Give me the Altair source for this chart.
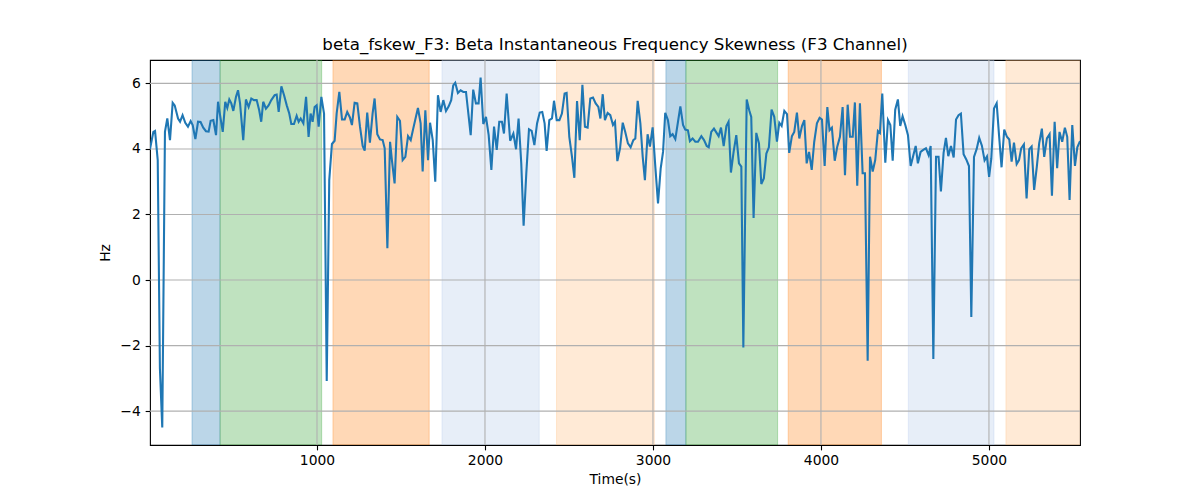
import altair as alt
import pandas as pd

# ---- data ----
times = [6, 26, 36, 52, 65, 79, 95, 109, 125, 141, 153, 173, 185, 200, 216, 232, 248, 260, 276, 292,
         307, 323, 339, 355, 367, 383, 399, 411, 423, 439, 454, 466, 478, 490, 502, 518, 530, 542, 561, 577,
         593, 609, 625, 641, 656, 668, 680, 696, 712, 728, 748, 760, 772, 788, 804, 820, 835, 847, 863, 879,
         891, 903, 919, 935, 950, 962, 974, 986, 998, 1010, 1026, 1042, 1058, 1073, 1089, 1105, 1117, 1133, 1149, 1165,
         1180, 1196, 1208, 1224, 1240, 1256, 1272, 1284, 1299, 1315, 1331, 1343, 1359, 1375, 1391, 1403, 1419, 1435, 1446, 1462,
         1478, 1494, 1510, 1526, 1542, 1558, 1573, 1589, 1601, 1617, 1629, 1645, 1661, 1673, 1689, 1704, 1720, 1736, 1752, 1768,
         1784, 1799, 1811, 1823, 1839, 1855, 1871, 1887, 1899, 1915, 1930, 1946, 1962, 1974, 1990, 2006, 2022, 2038, 2054, 2070,
         2085, 2101, 2113, 2129, 2150, 2169, 2185, 2200, 2216, 2230, 2246, 2262, 2278, 2294, 2310, 2326, 2341, 2355, 2367, 2383,
         2399, 2411, 2427, 2443, 2458, 2474, 2486, 2502, 2518, 2532, 2548, 2564, 2580, 2595, 2611, 2627, 2643, 2659, 2675, 2687,
         2701, 2714, 2730, 2746, 2762, 2774, 2788, 2804, 2820, 2835, 2851, 2867, 2883, 2895, 2909, 2925, 2939, 2952, 2968, 2982,
         2998, 3014, 3030, 3046, 3060, 3073, 3089, 3103, 3117, 3133, 3149, 3163, 3179, 3192, 3208, 3220, 3236, 3252, 3268, 3288,
         3304, 3320, 3332, 3347, 3363, 3375, 3391, 3405, 3421, 3437, 3450, 3464, 3480, 3496, 3512, 3526, 3538, 3558, 3573, 3585,
         3599, 3615, 3631, 3645, 3660, 3675, 3690, 3706, 3722, 3738, 3752, 3766, 3782, 3798, 3811, 3827, 3841, 3857, 3871, 3887,
         3901, 3915, 3929, 3945, 3960, 3976, 3992, 4006, 4022, 4038, 4051, 4065, 4082, 4097, 4113, 4129, 4143, 4159, 4173, 4189,
         4202, 4216, 4232, 4248, 4262, 4278, 4292, 4308, 4323, 4339, 4351, 4365, 4383, 4399, 4413, 4427, 4442, 4458, 4472, 4486,
         4502, 4518, 4534, 4550, 4564, 4577, 4593, 4609, 4625, 4641, 4653, 4669, 4685, 4700, 4714, 4730, 4744, 4758, 4774, 4790,
         4804, 4819, 4833, 4849, 4865, 4881, 4895, 4911, 4927, 4942, 4958, 4974, 4988, 5001, 5014, 5030, 5046, 5060, 5075, 5091,
         5107, 5121, 5135, 5149, 5165, 5179, 5192, 5208, 5224, 5240, 5254, 5269, 5285, 5299, 5315, 5329, 5345, 5361, 5375, 5391,
         5406, 5420, 5436, 5452, 5466, 5480, 5496, 5512, 5526, 5542]

values = [4.00, 4.52, 4.55, 3.66, -2.70, -4.50, 4.52, 4.93, 4.27, 5.41, 5.33, 4.93, 4.83, 5.03, 4.80, 4.68, 4.85, 4.73, 4.30, 4.83,
          4.82, 4.65, 4.54, 4.53, 4.86, 4.88, 4.42, 5.44, 5.03, 4.52, 5.44, 5.25, 5.51, 5.39, 5.16, 5.59, 5.79, 5.39, 4.27, 5.51,
          5.28, 5.54, 5.49, 5.49, 5.18, 4.83, 5.44, 5.23, 5.33, 5.49, 5.64, 5.66, 5.13, 5.91, 5.64, 5.33, 5.08, 4.76, 4.76, 5.01,
          4.83, 4.93, 4.78, 5.59, 4.37, 5.08, 4.83, 5.28, 5.33, 4.68, 5.59, 5.08, -3.08, 3.05, 4.15, 4.25, 5.08, 5.74, 4.90, 4.90,
          5.13, 4.96, 4.73, 5.41, 5.39, 4.68, 4.09, 3.95, 5.11, 4.19, 5.08, 5.54, 4.45, 4.29, 4.27, 4.02, 0.97, 4.22, 3.66, 2.95,
          4.98, 4.86, 3.66, 3.76, 4.39, 4.27, 4.62, 4.98, 5.25, 4.78, 3.31, 5.18, 3.66, 4.80, 4.27, 3.00, 5.64, 5.13, 5.49, 5.16,
          5.30, 5.49, 5.94, 6.02, 5.71, 5.79, 5.74, 5.74, 5.18, 4.42, 5.81, 5.39, 5.39, 6.18, 4.76, 4.98, 4.42, 3.36, 4.68, 3.97,
          4.83, 4.83, 4.47, 5.69, 4.25, 4.47, 3.99, 4.93, 3.56, 1.66, 3.26, 4.60, 4.55, 4.12, 4.78, 5.11, 5.13, 4.78, 3.94, 4.88,
          4.93, 5.47, 4.88, 4.88, 5.08, 5.69, 5.71, 4.37, 3.76, 3.12, 5.46, 4.27, 5.96, 4.68, 4.65, 5.54, 5.57, 5.39, 5.28, 4.93,
          5.67, 4.88, 5.10, 5.03, 4.73, 4.83, 3.63, 4.02, 4.80, 4.52, 4.17, 4.05, 4.27, 4.32, 5.47, 4.78, 3.76, 3.05, 4.45, 4.07,
          4.66, 3.46, 2.34, 3.41, 3.91, 5.10, 4.88, 4.39, 4.45, 4.30, 4.83, 5.30, 4.73, 4.59, 4.57, 4.24, 4.32, 4.22, 4.22, 4.39,
          4.27, 4.09, 4.05, 4.52, 4.62, 4.52, 4.39, 4.65, 4.09, 4.70, 4.83, 3.28, 3.91, 4.42, 3.56, 3.46, -2.06, 5.51, 5.18, 4.98,
          1.89, 4.49, 4.17, 2.93, 3.10, 3.86, 4.05, 5.20, 4.98, 4.22, 4.80, 4.70, 5.16, 5.06, 3.88, 4.39, 4.52, 5.11, 4.32, 4.70,
          4.88, 3.56, 3.91, 3.36, 4.22, 4.78, 4.95, 4.90, 3.48, 5.28, 4.57, 4.65, 3.64, 4.07, 4.37, 5.28, 3.20, 5.35, 4.37, 4.37,
          5.42, 2.88, 5.39, 3.26, 3.26, -2.46, 3.76, 3.31, 3.66, 4.55, 4.49, 5.69, 3.58, 4.88, 4.73, 3.64, 5.20, 5.51, 4.70, 5.00,
          4.73, 4.42, 3.48, 3.81, 4.09, 3.56, 3.91, 3.97, 4.02, 3.81, 4.09, -2.41, 3.76, 3.76, 2.70, 3.88, 4.34, 3.78, 4.09, 3.74,
          4.90, 5.03, 5.08, 3.84, 3.68, 3.48, -1.13, 3.76, 4.00, 4.34, 4.10, 3.65, 3.77, 3.15, 3.71, 5.23, 5.39, 4.42, 3.44, 4.59,
          4.37, 4.29, 3.61, 4.19, 3.54, 3.66, 4.02, 4.14, 2.49, 3.99, 4.07, 2.75, 3.46, 4.17, 4.62, 3.76, 4.32, 4.45, 2.57, 4.83,
          3.41, 4.52, 4.22, 4.65, 4.37, 2.44, 4.73, 3.48, 4.05, 4.24]

region_starts = [256, 423, 1095, 1744, 2426, 3077, 3196, 3805, 4520, 5101]
region_ends = [423, 1028, 1668, 2323, 3008, 3196, 3742, 4360, 5030, 5600]
region_colors = ["#1f77b4", "#2ca02c", "#ff7f0e", "#aec7e8", "#ffbb78",
                 "#1f77b4", "#2ca02c", "#ff7f0e", "#aec7e8", "#ffbb78"]

x_ticks = [1000, 2000, 3000, 4000, 5000]
y_ticks = [-4, -2, 0, 2, 4, 6]

title_text = "beta_fskew_F3: Beta Instantaneous Frequency Skewness (F3 Channel)"

# ---- tables ----
line_df = pd.DataFrame({"t": times, "v": values})
reg_df = pd.DataFrame({"start": region_starts, "end": region_ends, "color": region_colors})
xg_df = pd.DataFrame({"t": x_ticks})
yg_df = pd.DataFrame({"v": y_ticks})

xmin, xmax = min(times), max(times)
vspan = max(values) - min(values)
ymin, ymax = min(values) - 0.05 * vspan, max(values) + 0.05 * vspan

xscale = alt.Scale(domain=[xmin, xmax], nice=False, zero=False)
yscale = alt.Scale(domain=[ymin, ymax], nice=False, zero=False)

FONT = "DejaVu Sans"
PT = 100 / 72
TICK_PX = 10 * PT

x_axis = alt.Axis(
    values=x_ticks, format="d", grid=False, domain=False, ticks=True, tickSize=3.5 * PT, tickWidth=0.8 * PT,
    tickColor="black", labelFont=FONT, labelFontSize=TICK_PX, labelColor="black",
    labelPadding=3.5, labelFlush=False, title="Time(s)", titleFont=FONT,
    titleFontSize=TICK_PX, titleFontWeight="normal", titleColor="black", titlePadding=5,
)
y_axis = alt.Axis(
    values=y_ticks, format="d", grid=False, domain=False, ticks=True, tickSize=3.5 * PT, tickWidth=0.8 * PT,
    tickColor="black", labelFont=FONT, labelFontSize=TICK_PX, labelColor="black",
    labelPadding=4.86, labelFlush=False, title="Hz", titleFont=FONT,
    titleFontSize=TICK_PX, titleFontWeight="normal", titleColor="black", titlePadding=7,
)

rects = alt.Chart(reg_df).mark_rect(fillOpacity=0.3, strokeOpacity=0.3, strokeWidth=1, clip=True).encode(
    x=alt.X("start:Q", scale=xscale, axis=x_axis, title="Time(s)"),
    x2="end:Q",
    fill=alt.Fill("color:N", scale=None),
    stroke=alt.Stroke("color:N", scale=None),
)

xgrid = alt.Chart(xg_df).mark_rule(color="#b0b0b0", strokeWidth=0.8 * PT).encode(
    x=alt.X("t:Q", scale=xscale, axis=x_axis, title="Time(s)")
)
ygrid = alt.Chart(yg_df).mark_rule(color="#b0b0b0", strokeWidth=0.8 * PT).encode(
    y=alt.Y("v:Q", scale=yscale, axis=y_axis, title="Hz")
)

line = alt.Chart(line_df).mark_line(color="#1f77b4", strokeWidth=1.5 * PT, clip=True).encode(
    x=alt.X("t:Q", scale=xscale, axis=x_axis, title="Time(s)"),
    y=alt.Y("v:Q", scale=yscale, axis=y_axis, title="Hz"),
)

chart = alt.layer(rects, xgrid, ygrid, line).properties(
    width=930,
    height=385,
    title=alt.TitleParams(title_text, font=FONT, fontSize=12 * PT, fontWeight="normal",
                          color="black", anchor="middle", baseline="alphabetic", offset=8.3, dy=16),
    autosize=alt.AutoSizeParams(type="none"),
    padding={"left": 142, "top": 52, "right": 112, "bottom": 55},
    background="white",
).configure_view(stroke="black", strokeWidth=0.8 * PT)

chart.save("out.html", embed_options={"renderer": "svg", "actions": False})
